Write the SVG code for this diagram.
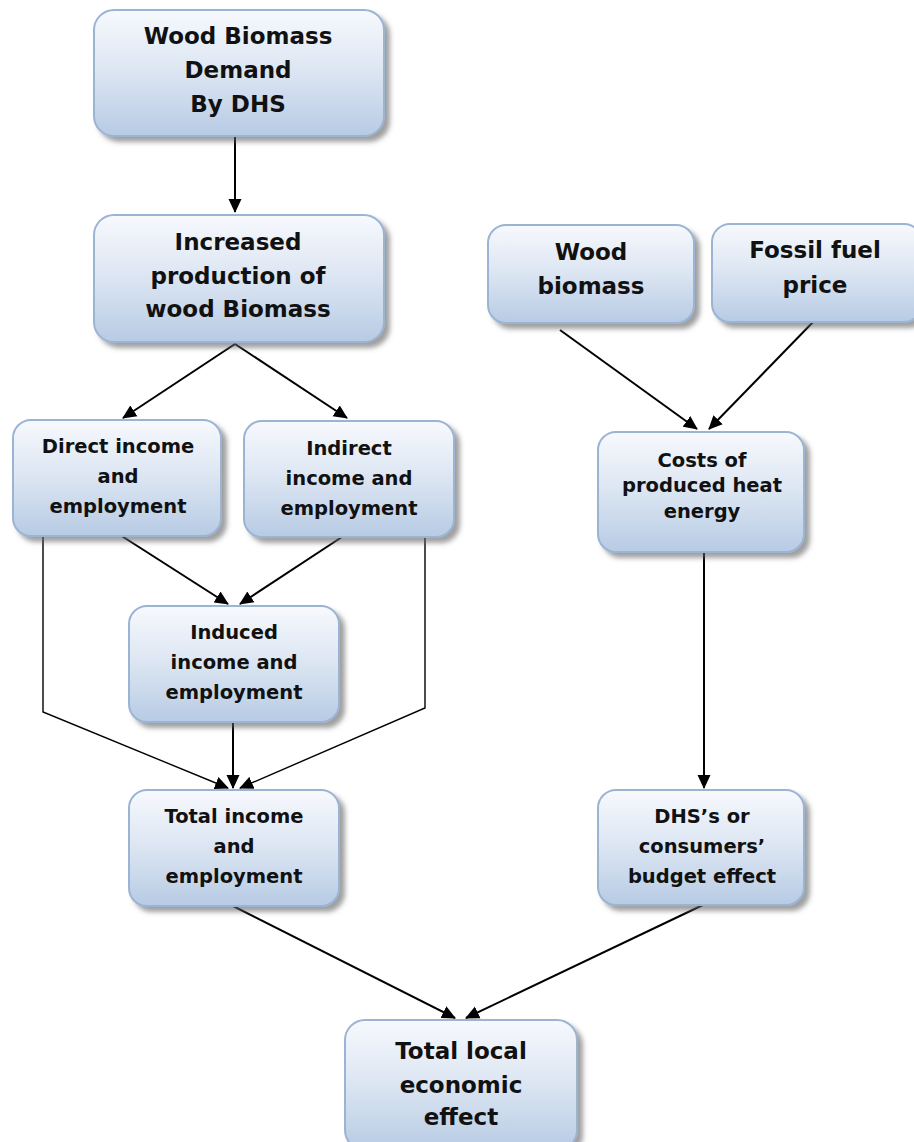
<svg xmlns="http://www.w3.org/2000/svg" width="914" height="1142" viewBox="0 0 914 1142">
<defs>
<linearGradient id="g" x1="0" y1="0" x2="0" y2="1">
<stop offset="0" stop-color="#f7f9fd"/>
<stop offset="0.5" stop-color="#dbe5f2"/>
<stop offset="1" stop-color="#b7cbe4"/>
</linearGradient>
<filter id="sh" x="-10%" y="-10%" width="125%" height="130%">
<feDropShadow dx="5" dy="5" stdDeviation="2.5" flood-color="#606060" flood-opacity="0.6"/>
</filter>
<marker id="ah" markerWidth="14" markerHeight="14" viewBox="0 0 14 14" refX="13" refY="7" orient="auto" markerUnits="userSpaceOnUse">
<path d="M0,0.5 L14,7 L0,13.5 Z" fill="#000"/>
</marker>
<style>
.box{fill:url(#g);stroke:#9cb4d4;stroke-width:2;filter:url(#sh)}
.t{font-family:"DejaVu Sans",Verdana,sans-serif;font-weight:bold;fill:#111;text-anchor:middle}
.big{font-size:23px}
.sm{font-size:19.5px}
.c{stroke:#000;stroke-width:2;fill:none}
.c1{stroke:#000;stroke-width:1.4;fill:none}
</style>
</defs>
<rect width="914" height="1142" fill="#fff"/>

<g id="connectors">
<line class="c" x1="235" y1="137" x2="235" y2="212" marker-end="url(#ah)"/>
<line class="c" x1="235" y1="344" x2="123" y2="418" marker-end="url(#ah)"/>
<line class="c" x1="235" y1="344" x2="347" y2="418" marker-end="url(#ah)"/>
<line class="c" x1="117" y1="533" x2="228" y2="604" marker-end="url(#ah)"/>
<line class="c" x1="348" y1="533" x2="240" y2="604" marker-end="url(#ah)"/>
<polyline class="c1" points="43,537 43,712 228,788" marker-end="url(#ah)"/>
<polyline class="c1" points="425,537 425,708 240,788" marker-end="url(#ah)"/>
<line class="c" x1="233" y1="722" x2="233" y2="788" marker-end="url(#ah)"/>
<line class="c" x1="560" y1="330" x2="697" y2="429" marker-end="url(#ah)"/>
<line class="c" x1="815" y1="320" x2="709" y2="429" marker-end="url(#ah)"/>
<line class="c" x1="704" y1="553" x2="704" y2="788" marker-end="url(#ah)"/>
<line class="c" x1="233" y1="906" x2="455" y2="1018" marker-end="url(#ah)"/>
<line class="c" x1="705" y1="904" x2="466" y2="1018" marker-end="url(#ah)"/>
</g>

<g id="n1">
<rect class="box" x="94" y="10" width="290" height="126" rx="20"/>
<text class="t big" x="238" y="44">Wood Biomass</text>
<text class="t big" x="238" y="78">Demand</text>
<text class="t big" x="238" y="112">By DHS</text>
</g>

<g id="n2">
<rect class="box" x="94" y="215" width="290" height="127" rx="20"/>
<text class="t big" x="238" y="250">Increased</text>
<text class="t big" x="238" y="284">production of</text>
<text class="t big" x="238" y="317">wood Biomass</text>
</g>

<g id="n3">
<rect class="box" x="488" y="225" width="206" height="98" rx="18"/>
<text class="t big" x="591" y="260">Wood</text>
<text class="t big" x="591" y="294">biomass</text>
</g>

<g id="n4">
<rect class="box" x="712" y="224" width="210" height="98" rx="18"/>
<text class="t big" x="815" y="258">Fossil fuel</text>
<text class="t big" x="815" y="293">price</text>
</g>

<g id="n5">
<rect class="box" x="13" y="420" width="208" height="116" rx="18"/>
<text class="t sm" x="118" y="453">Direct income</text>
<text class="t sm" x="118" y="483">and</text>
<text class="t sm" x="118" y="513">employment</text>
</g>

<g id="n6">
<rect class="box" x="244" y="421" width="210" height="116" rx="18"/>
<text class="t sm" x="349" y="455">Indirect</text>
<text class="t sm" x="349" y="485">income and</text>
<text class="t sm" x="349" y="515">employment</text>
</g>

<g id="n7">
<rect class="box" x="129" y="606" width="210" height="116" rx="18"/>
<text class="t sm" x="234" y="639">Induced</text>
<text class="t sm" x="234" y="669">income and</text>
<text class="t sm" x="234" y="699">employment</text>
</g>

<g id="n8">
<rect class="box" x="598" y="432" width="206" height="120" rx="18"/>
<text class="t sm" x="702" y="467">Costs of</text>
<text class="t sm" x="702" y="492">produced heat</text>
<text class="t sm" x="702" y="518">energy</text>
</g>

<g id="n9">
<rect class="box" x="129" y="790" width="210" height="116" rx="18"/>
<text class="t sm" x="234" y="823">Total income</text>
<text class="t sm" x="234" y="853">and</text>
<text class="t sm" x="234" y="883">employment</text>
</g>

<g id="n10">
<rect class="box" x="598" y="790" width="206" height="115" rx="18"/>
<text class="t sm" x="702" y="823">DHS’s or</text>
<text class="t sm" x="702" y="853">consumers’</text>
<text class="t sm" x="702" y="883">budget effect</text>
</g>

<g id="n11">
<rect class="box" x="345" y="1020" width="232" height="130" rx="20"/>
<text class="t big" x="461" y="1059">Total local</text>
<text class="t big" x="461" y="1093">economic</text>
<text class="t big" x="461" y="1125">effect</text>
</g>
</svg>
